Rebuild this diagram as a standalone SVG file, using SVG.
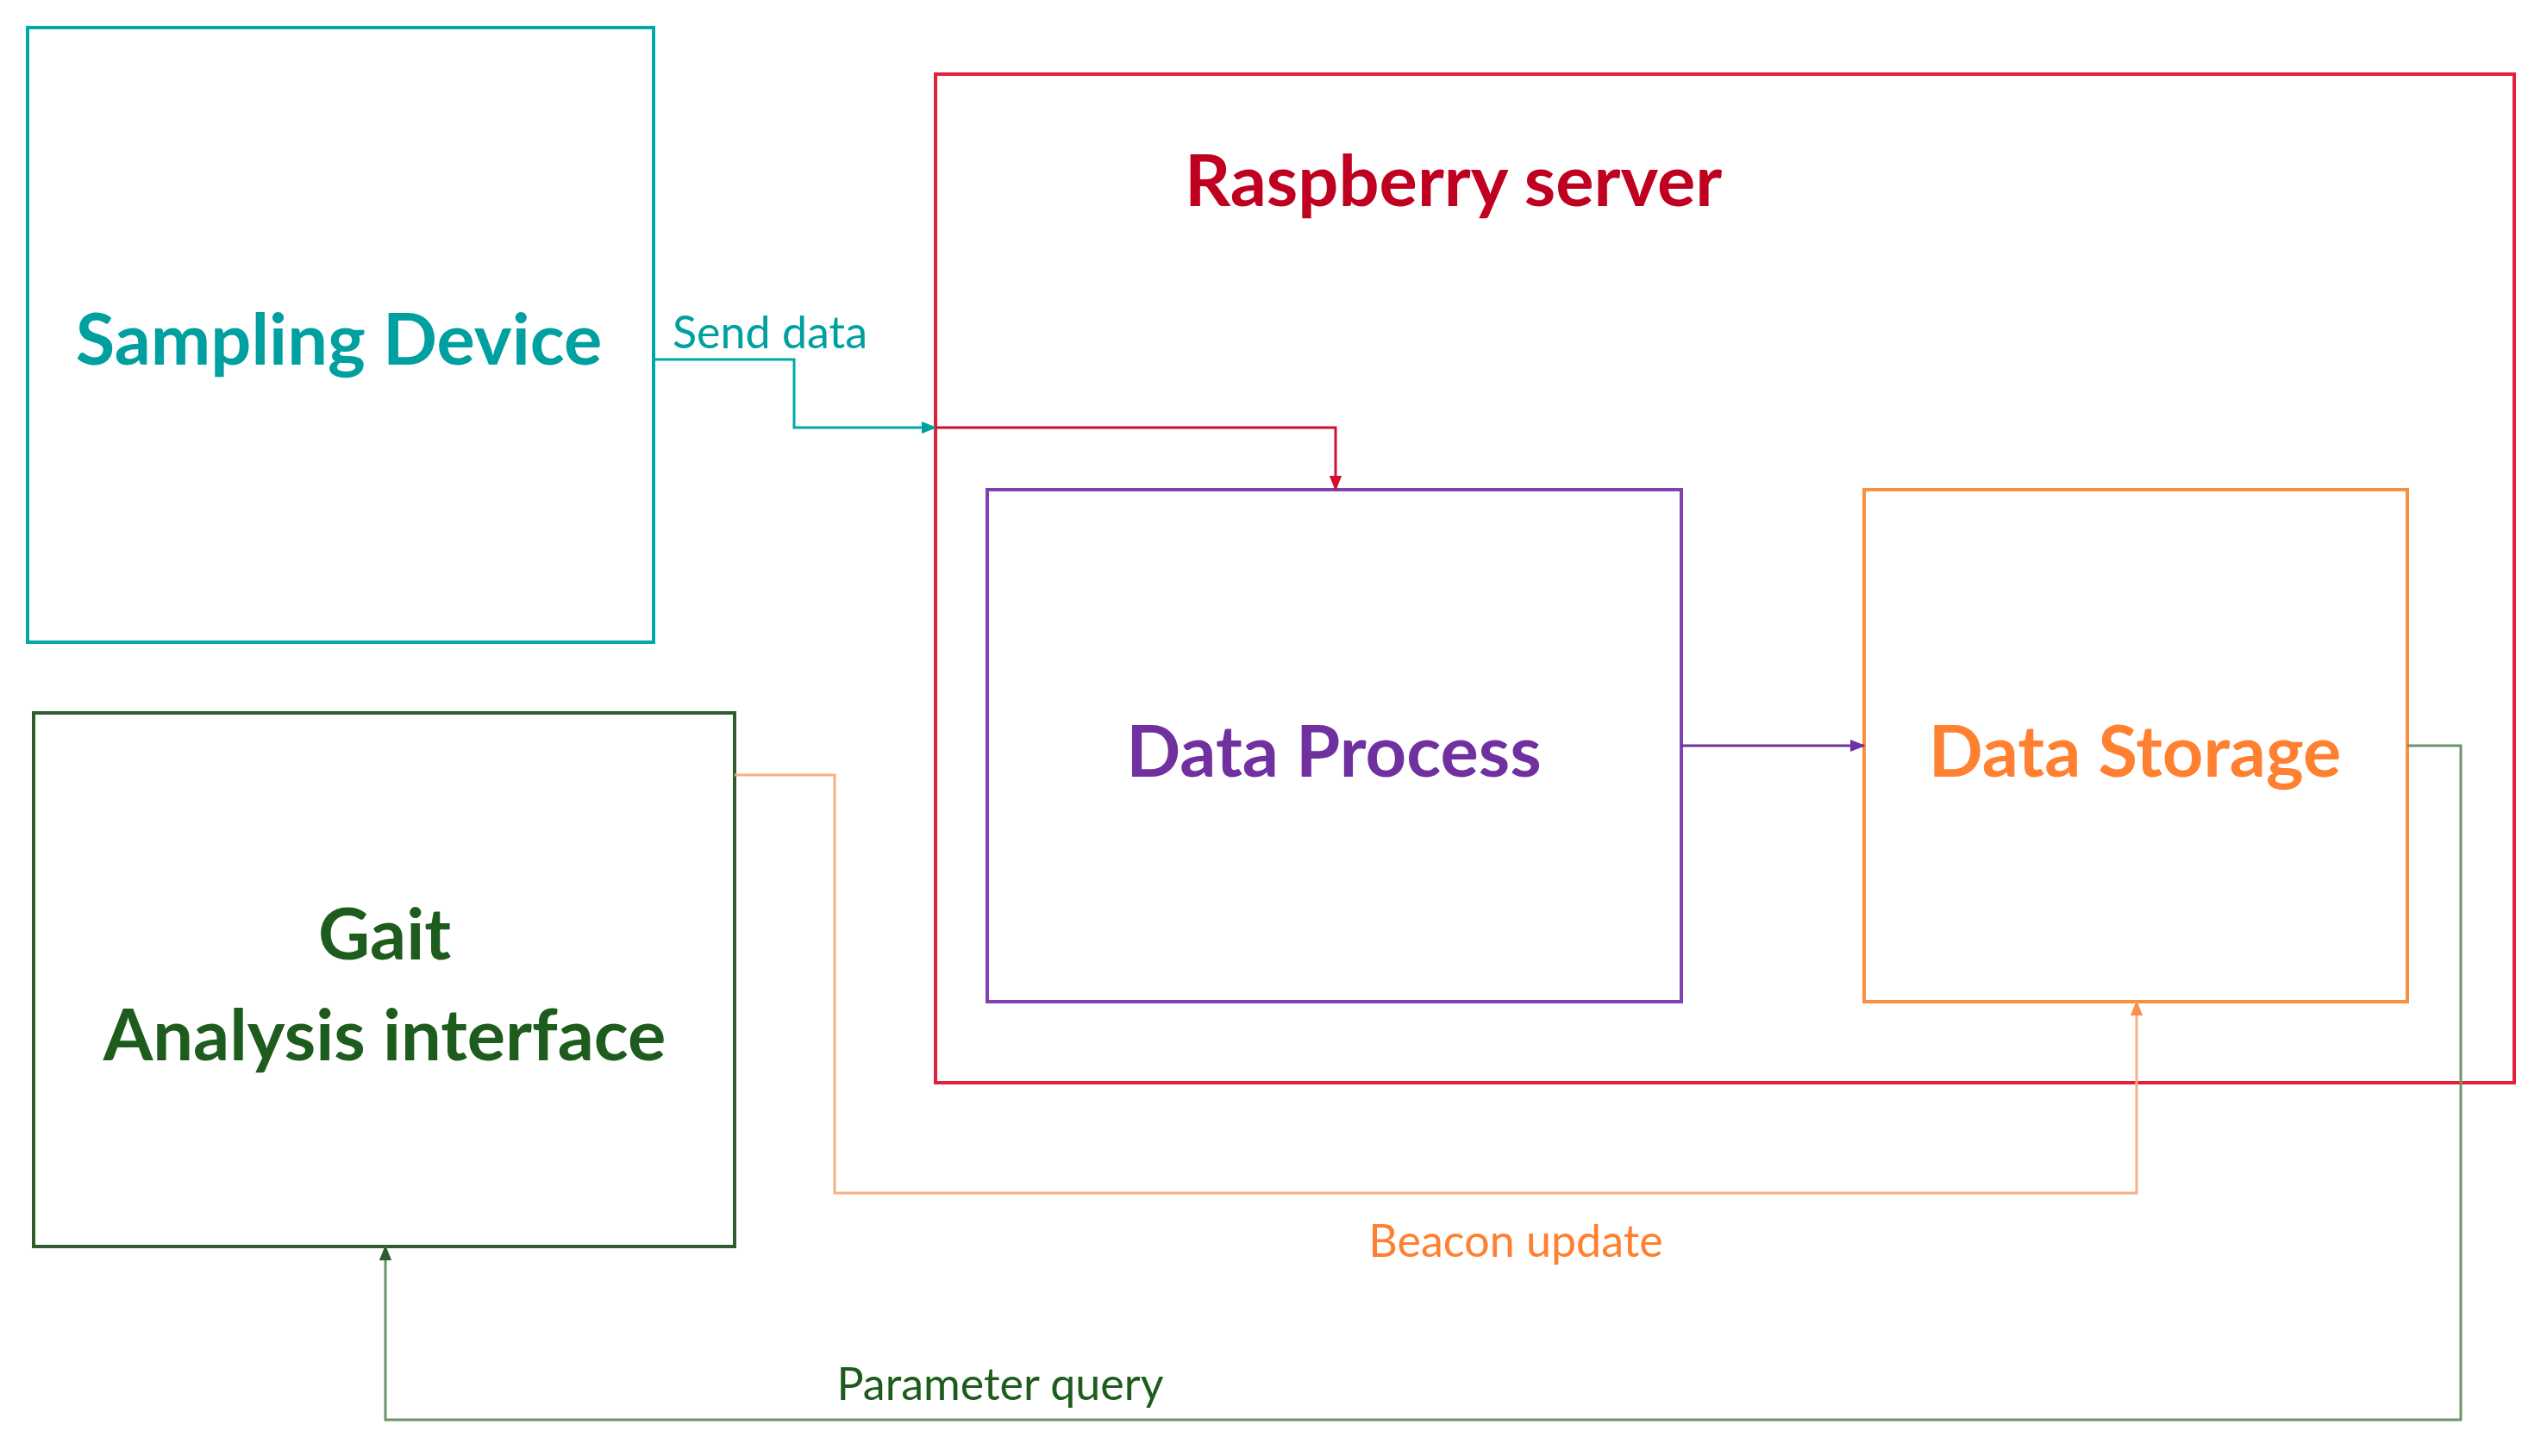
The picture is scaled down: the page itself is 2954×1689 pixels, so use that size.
<svg xmlns="http://www.w3.org/2000/svg" width="2954" height="1689" viewBox="0 0 2954 1689">
<defs>
<style>
.t{font-family:Lato,"Open Sans",sans-serif;font-weight:bold;text-anchor:middle;dominant-baseline:central}
.l{font-family:Lato,"Open Sans",sans-serif;font-size:52px;dominant-baseline:central}
.c{fill:none;stroke-width:3}
</style>
<marker id="a" viewBox="0 0 10 10" refX="9" refY="5" markerWidth="6" markerHeight="6" orient="auto-start-reverse" markerUnits="userSpaceOnUse"><path d="M0,0L10,5L0,10z" fill="context-stroke"/></marker>
<marker id="at" viewBox="0 0 10 10" refX="9" refY="5" markerWidth="18" markerHeight="18" orient="auto" markerUnits="userSpaceOnUse"><path d="M0,1L10,5L0,9z" fill="#00A0A0"/></marker>
<marker id="ar" viewBox="0 0 10 10" refX="9" refY="5" markerWidth="18" markerHeight="18" orient="auto" markerUnits="userSpaceOnUse"><path d="M0,1L10,5L0,9z" fill="#D0102E"/></marker>
<marker id="ap" viewBox="0 0 10 10" refX="9" refY="5" markerWidth="18" markerHeight="18" orient="auto" markerUnits="userSpaceOnUse"><path d="M0,1L10,5L0,9z" fill="#7030A0"/></marker>
<marker id="ao" viewBox="0 0 10 10" refX="9" refY="5" markerWidth="18" markerHeight="18" orient="auto" markerUnits="userSpaceOnUse"><path d="M0,1L10,5L0,9z" fill="#F89050"/></marker>
<marker id="ag" viewBox="0 0 10 10" refX="9" refY="5" markerWidth="18" markerHeight="18" orient="auto" markerUnits="userSpaceOnUse"><path d="M0,1L10,5L0,9z" fill="#2E5E2E"/></marker>
</defs>
<rect width="2954" height="1689" fill="#fff"/>
<g id="sampling"><rect x="32" y="32" width="726" height="713" fill="none" stroke="#00A8A8" stroke-width="4"/><text class="t" x="393" y="391" font-size="83" fill="#00A0A0">Sampling Device</text></g>
<g id="raspberry"><rect x="1085" y="86" width="1831" height="1170" fill="none" stroke="#E0203C" stroke-width="4"/><text class="t" x="1374" y="207" font-size="83" fill="#C00020" style="text-anchor:start">Raspberry server</text></g>
<g id="process"><rect x="1145" y="568" width="805" height="594" fill="none" stroke="#8040B0" stroke-width="4"/><text class="t" x="1547" y="869" font-size="83" fill="#7030A0">Data Process</text></g>
<g id="storage"><rect x="2162" y="568" width="630" height="594" fill="none" stroke="#F89040" stroke-width="4"/><text class="t" x="2476" y="869" font-size="83" fill="#FF8030">Data Storage</text></g>
<g id="gait"><rect x="39" y="827" width="813" height="619" fill="none" stroke="#2E5E2E" stroke-width="4"/><text class="t" x="446" y="1081" font-size="83" fill="#1E5C1E">Gait</text><text class="t" x="446" y="1198" font-size="83" fill="#1E5C1E">Analysis interface</text></g>
<g id="connectors">
<path class="c" d="M758,417H921V496H1085" stroke="#00A8A8" marker-end="url(#at)"/>
<path class="c" d="M1085,496H1549V568" stroke="#D0102E" marker-end="url(#ar)"/>
<path class="c" d="M1950,865H2162" stroke="#7030A0" marker-end="url(#ap)"/>
<path class="c" d="M852,899H968V1384H2478V1162" stroke="#F8B080" marker-end="url(#ao)"/>
<path class="c" d="M2792,865H2854V1647H447V1446" stroke="#6A946A" marker-end="url(#ag)"/>
<text class="l" x="780" y="384" fill="#00A0A0">Send data</text>
<text class="l" x="1758" y="1438" fill="#FF8030" text-anchor="middle">Beacon update</text>
<text class="l" x="1160" y="1604" fill="#1E5C1E" text-anchor="middle">Parameter query</text>
</g>
</svg>
